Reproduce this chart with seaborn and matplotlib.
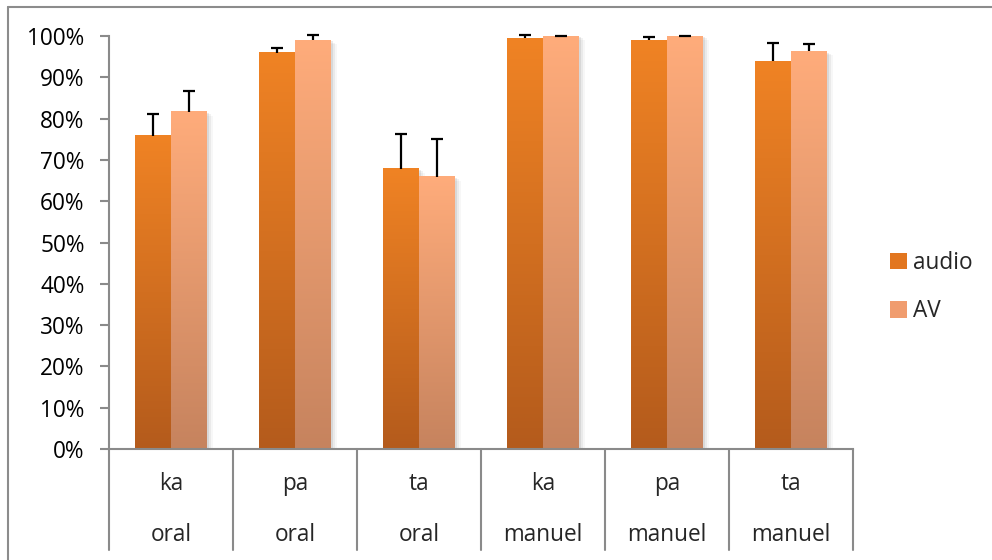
import numpy as np
import pandas as pd
import matplotlib
matplotlib.use("Agg")
import matplotlib.pyplot as plt
import seaborn as sns
from matplotlib.colors import LinearSegmentedColormap
from matplotlib.patches import Rectangle, Patch
from matplotlib.lines import Line2D

# ---- data ----
syllables = ["ka", "pa", "ta", "ka", "pa", "ta"]
modalities = ["oral", "oral", "oral", "manuel", "manuel", "manuel"]
series = ["audio", "AV"]
audio = [75.9, 95.9, 67.8, 99.5, 99.0, 93.9]
av = [81.6, 99.0, 65.9, 100.0, 100.0, 96.3]
audio_err = [5.2, 1.2, 8.5, 0.7, 0.8, 4.3]
av_err = [5.1, 1.2, 9.2, 0.1, 0.1, 1.8]
y_ticks = [0, 10, 20, 30, 40, 50, 60, 70, 80, 90, 100]

# colours (top, bottom) of the gradients
grad = {
    "audio": ("#F08324", "#B45B1C"),
    "AV": ("#FFAC7B", "#C6835E"),
}
mid = {"audio": "#E2761F", "AV": "#F09C6E"}

cats = [f"{s} {m}" for s, m in zip(syllables, modalities)]
df = pd.DataFrame({
    "cat": cats * 2,
    "series": ["audio"] * len(cats) + ["AV"] * len(cats),
    "value": audio + av,
})
errs = {"audio": audio_err, "AV": av_err}

sns.set_theme(style="white")
FONT = ["Open Sans", "DejaVu Sans"]
plt.rcParams["font.family"] = FONT
FS = 16.3

W, H = 992, 560
fig, ax = plt.subplots(figsize=(W / 100, H / 100), dpi=100)
fig.subplots_adjust(left=109 / W, right=853 / W, bottom=(H - 449) / H, top=(H - 36) / H)

sns.barplot(data=df, x="cat", y="value", hue="series", order=cats, hue_order=series,
            palette=[mid[s] for s in series], width=0.58, errorbar=None,
            legend=False, saturation=1, ax=ax)

shadow_dx = 3 / 124.0
for cont, s in zip(ax.containers, series):
    cmap = LinearSegmentedColormap.from_list(s, [grad[s][1], grad[s][0]])
    g = np.linspace(0, 1, 256).reshape(-1, 1)
    for bar, e in zip(cont, errs[s]):
        x0 = bar.get_x()
        w = bar.get_width()
        h = bar.get_height()
        bar.set_facecolor("none")
        bar.set_edgecolor("none")
        # soft shadow
        for k, a in [(1, 0.08), (2, 0.05), (3, 0.03)]:
            ax.add_patch(Rectangle((x0 + k * shadow_dx / 1.5, 0), w, h - 0.3 * k,
                                   facecolor="#000000", alpha=a, edgecolor="none",
                                   zorder=1.5 if s == "audio" else 1.6))
        ax.imshow(g, extent=[x0, x0 + w, 0, h], origin="lower", aspect="auto",
                  cmap=cmap, interpolation="bicubic", zorder=2 if s == "audio" else 2.1)
        eb = ax.errorbar(x0 + w / 2, h, yerr=[[0], [e]], fmt="none", ecolor="black",
                         elinewidth=1.6, capsize=4.4, capthick=1.6, zorder=4, clip_on=False)
        eb[1][0].set_visible(False)
        for c in eb[1]:
            c.set_clip_on(False)
        for c in eb[2]:
            c.set_clip_on(False)

ax.set_xlim(-0.5, len(cats) - 0.5)
ax.set_ylim(0, 100)
ax.set_yticks(y_ticks)
ax.set_yticklabels([f"{t}%" for t in y_ticks])
ax.set_xticks([])
ax.set_xlabel("")
ax.set_ylabel("")

axis_col = "#8A8A8A"
for sp in ["top", "right"]:
    ax.spines[sp].set_visible(False)
for sp in ["left", "bottom"]:
    ax.spines[sp].set_color(axis_col)
    ax.spines[sp].set_linewidth(1.5)
ax.tick_params(axis="y", direction="out", length=6.5, width=1.5, color=axis_col,
               labelsize=FS, pad=11, labelcolor="black", left=True)

trans = ax.get_xaxis_transform()
for k in range(len(cats) + 1):
    ax.add_line(Line2D([k - 0.5, k - 0.5], [0, -0.245], transform=trans, color=axis_col,
                       lw=1.5, clip_on=False))
for i, (s, m) in enumerate(zip(syllables, modalities)):
    ax.text(i, -0.085, s, transform=trans, ha="center", va="center", fontsize=FS, family=FONT)
    ax.text(i, -0.209, m, transform=trans, ha="center", va="center", fontsize=FS, family=FONT)

handles = [Patch(facecolor=mid[s], edgecolor="none") for s in series]
fig.legend(handles, series, loc="center left", bbox_to_anchor=(879 / W, 1 - 287 / H),
           frameon=False, fontsize=FS, handlelength=0.72, handleheight=0.72,
           handletextpad=0.28, labelspacing=1.1, borderpad=0)

# outer chart border (left and top)
fig.add_artist(Line2D([7.5 / W, 7.5 / W], [0, 1 - 6.5 / H], transform=fig.transFigure,
                      color="#8C8C8C", lw=1.5))
fig.add_artist(Line2D([7.5 / W, 1], [1 - 6.5 / H, 1 - 6.5 / H], transform=fig.transFigure,
                      color="#8C8C8C", lw=1.5))

fig.savefig("out.png", dpi=100, facecolor="white")
